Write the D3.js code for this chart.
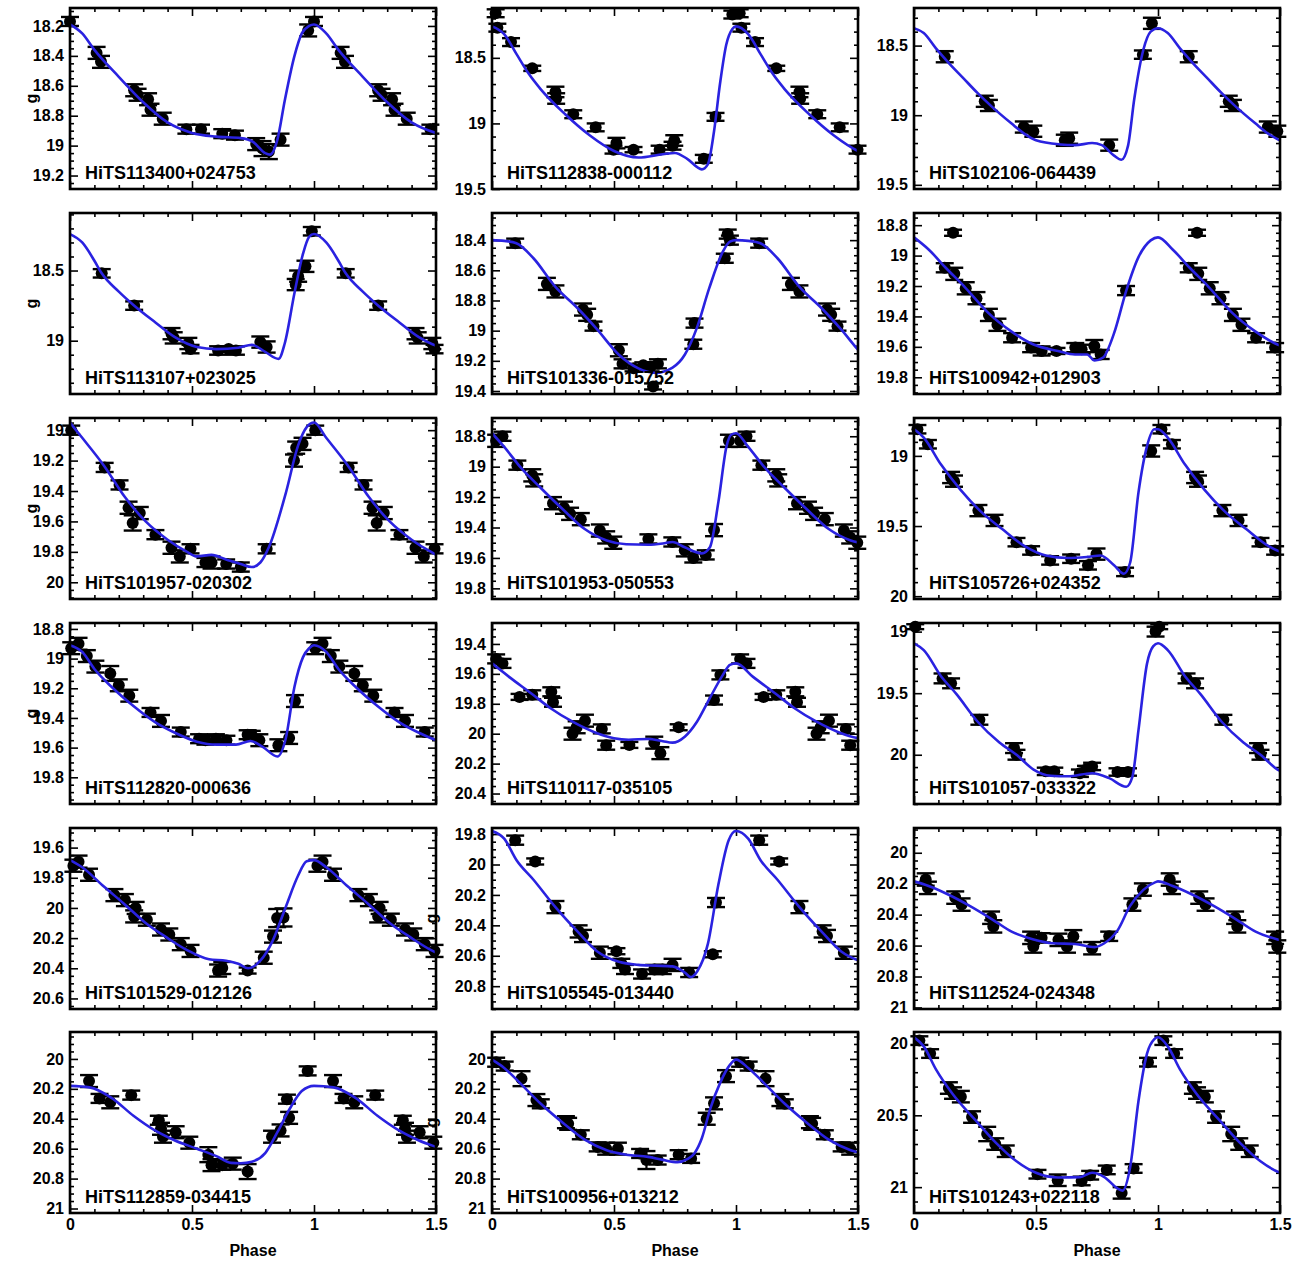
<!DOCTYPE html>
<html>
<head>
<meta charset="UTF-8">
<script src="https://d3js.org/d3.v7.min.js"></script>
<style>
    body { margin: 0; background: #fff; }
    text { font-family: "Liberation Sans", Arial, sans-serif; font-weight: bold; fill: #000; }
</style>
</head>
<body>
<svg id="chart" width="1314" height="1264"></svg>
<script>

// star names, row by row
const names = [
    "HiTS113400+024753", "HiTS112838-000112", "HiTS102106-064439",
    "HiTS113107+023025", "HiTS101336-015752", "HiTS100942+012903",
    "HiTS101957-020302", "HiTS101953-050553", "HiTS105726+024352",
    "HiTS112820-000636", "HiTS110117-035105", "HiTS101057-033322",
    "HiTS101529-012126", "HiTS105545-013440", "HiTS112524-024348",
    "HiTS112859-034415", "HiTS100956+013212", "HiTS101243+022118"
];

// y range of each panel [top, bottom] in mag, and the major tick step
const yRanges = [
    [18.08, 19.29], [18.12, 19.5], [18.23, 19.53],
    [18.09, 19.38], [18.22, 19.42], [18.72, 19.91],
    [18.92, 20.11], [18.68, 19.87], [18.73, 20.02],
    [18.76, 19.98], [19.26, 20.47], [18.93, 20.4],
    [19.47, 20.67], [19.76, 20.95], [19.84, 21.01],
    [19.82, 21.03], [19.82, 21.03], [19.92, 21.18]
];
const ySteps = [0.2, 0.5, 0.5, 0.5, 0.2, 0.2, 0.2, 0.2, 0.5, 0.2, 0.2, 0.5, 0.2, 0.2, 0.2, 0.2, 0.2, 0.5];

const xTicks = [0, 0.5, 1, 1.5];

// observations: [phase, g, error]
const points1 = [[0.0,18.17,0.03],[0.109,18.38,0.04],[0.127,18.44,0.04],[0.263,18.63,0.04],[0.277,18.66,0.04],[0.32,18.69,0.04],[0.33,18.76,0.04],[0.38,18.82,0.04],[0.477,18.89,0.03],[0.537,18.89,0.03],[0.624,18.92,0.03],[0.676,18.93,0.03],[0.763,18.99,0.04],[0.789,19.02,0.05],[0.815,19.04,0.05],[0.863,18.96,0.04],[0.976,18.23,0.04]];
const points2 = [[0.015,18.16,0.03],[0.022,18.27,0.03],[0.078,18.38,0.03],[0.165,18.58,0.02],[0.26,18.76,0.04],[0.263,18.81,0.04],[0.333,18.93,0.03],[0.425,19.03,0.03],[0.498,19.2,0.03],[0.51,19.15,0.04],[0.58,19.2,0.02],[0.687,19.2,0.03],[0.74,19.17,0.03],[0.747,19.13,0.04],[0.868,19.27,0.03],[0.916,18.95,0.03],[0.985,18.17,0.03]];
const points3 = [[0.126,18.58,0.04],[0.29,18.9,0.04],[0.307,18.93,0.04],[0.45,19.085,0.04],[0.489,19.115,0.04],[0.618,19.18,0.04],[0.636,19.165,0.04],[0.8,19.215,0.04],[0.938,18.565,0.03],[0.975,18.34,0.04]];
const points4 = [[0.13,18.52,0.03],[0.263,18.75,0.03],[0.416,18.95,0.04],[0.425,18.98,0.04],[0.485,19.02,0.04],[0.494,19.06,0.03],[0.607,19.07,0.03],[0.65,19.06,0.02],[0.68,19.07,0.03],[0.78,19.01,0.04],[0.806,19.045,0.04],[0.925,18.6,0.04],[0.935,18.54,0.04],[0.965,18.47,0.04],[0.991,18.22,0.03]];
const points5 = [[0.095,18.42,0.03],[0.225,18.69,0.04],[0.26,18.74,0.04],[0.373,18.86,0.04],[0.39,18.895,0.04],[0.416,18.97,0.03],[0.52,19.13,0.04],[0.535,19.22,0.03],[0.58,19.25,0.02],[0.62,19.23,0.02],[0.65,19.24,0.03],[0.66,19.37,0.02],[0.68,19.22,0.03],[0.825,19.09,0.03],[0.83,18.95,0.03],[0.954,18.52,0.03],[0.966,18.36,0.03],[0.975,18.4,0.03]];
const points6 = [[0.126,19.08,0.03],[0.16,18.85,0.02],[0.165,19.12,0.04],[0.212,19.215,0.04],[0.256,19.28,0.04],[0.307,19.39,0.04],[0.342,19.455,0.04],[0.402,19.54,0.03],[0.48,19.605,0.03],[0.523,19.627,0.03],[0.584,19.627,0.02],[0.661,19.605,0.03],[0.687,19.616,0.03],[0.739,19.595,0.04],[0.765,19.65,0.03],[0.869,19.23,0.03]];
const points7 = [[0.005,19.0,0.03],[0.142,19.245,0.03],[0.203,19.36,0.03],[0.24,19.51,0.04],[0.257,19.61,0.05],[0.286,19.545,0.04],[0.35,19.687,0.03],[0.416,19.773,0.04],[0.45,19.83,0.04],[0.494,19.78,0.03],[0.555,19.87,0.03],[0.58,19.87,0.04],[0.64,19.88,0.03],[0.7,19.9,0.03],[0.806,19.78,0.03],[0.918,19.2,0.04],[0.927,19.115,0.04],[0.953,19.09,0.04]];
const points8 = [[0.017,18.83,0.04],[0.043,18.8,0.03],[0.104,18.99,0.03],[0.165,19.057,0.04],[0.173,19.09,0.04],[0.25,19.24,0.04],[0.295,19.27,0.04],[0.32,19.31,0.04],[0.364,19.345,0.04],[0.442,19.42,0.04],[0.468,19.465,0.04],[0.497,19.5,0.04],[0.641,19.475,0.03],[0.739,19.495,0.03],[0.79,19.55,0.04],[0.825,19.6,0.03],[0.876,19.58,0.03],[0.91,19.417,0.04],[0.971,18.83,0.04]];
const points9 = [[0.014,18.81,0.03],[0.057,18.917,0.03],[0.152,19.154,0.04],[0.164,19.18,0.04],[0.264,19.39,0.04],[0.33,19.46,0.04],[0.42,19.615,0.03],[0.48,19.674,0.03],[0.558,19.745,0.03],[0.644,19.733,0.03],[0.713,19.78,0.03],[0.748,19.7,0.04],[0.865,19.827,0.03],[0.972,18.965,0.04]];
const points10 = [[0.005,18.93,0.04],[0.035,18.9,0.04],[0.069,18.983,0.04],[0.104,19.054,0.04],[0.165,19.1,0.05],[0.2,19.18,0.04],[0.243,19.25,0.04],[0.33,19.363,0.03],[0.373,19.42,0.04],[0.454,19.495,0.03],[0.529,19.54,0.03],[0.555,19.55,0.03],[0.598,19.54,0.03],[0.641,19.55,0.03],[0.728,19.513,0.03],[0.745,19.517,0.03],[0.776,19.55,0.04],[0.854,19.584,0.04],[0.898,19.535,0.04],[0.922,19.286,0.04]];
const points11 = [[0.017,19.5,0.03],[0.043,19.53,0.03],[0.113,19.754,0.02],[0.165,19.74,0.03],[0.243,19.72,0.03],[0.25,19.79,0.03],[0.33,20.0,0.04],[0.347,19.957,0.04],[0.381,19.913,0.04],[0.45,19.968,0.03],[0.468,20.077,0.03],[0.563,20.075,0.02],[0.665,20.06,0.04],[0.69,20.13,0.04],[0.765,19.957,0.02],[0.91,19.775,0.03],[0.936,19.607,0.03]];
const points12 = [[0.005,18.96,0.02],[0.117,19.38,0.04],[0.152,19.42,0.04],[0.268,19.716,0.04],[0.41,19.946,0.04],[0.42,20.0,0.04],[0.54,20.135,0.03],[0.575,20.135,0.03],[0.68,20.15,0.03],[0.705,20.12,0.03],[0.73,20.095,0.03],[0.834,20.14,0.03],[0.877,20.14,0.03],[0.99,19.0,0.04]];
const points13 = [[0.014,19.72,0.04],[0.035,19.693,0.04],[0.078,19.78,0.04],[0.182,19.915,0.04],[0.225,19.948,0.04],[0.263,20.056,0.04],[0.269,20.0,0.04],[0.315,20.078,0.04],[0.373,20.143,0.04],[0.407,20.176,0.04],[0.454,20.24,0.04],[0.494,20.285,0.04],[0.607,20.415,0.04],[0.624,20.398,0.04],[0.728,20.415,0.02],[0.794,20.33,0.04],[0.832,20.19,0.04],[0.849,20.067,0.06],[0.875,20.063,0.06]];
const points14 = [[0.095,19.84,0.03],[0.177,19.98,0.02],[0.26,20.28,0.04],[0.355,20.44,0.04],[0.373,20.47,0.04],[0.442,20.58,0.04],[0.51,20.57,0.02],[0.53,20.65,0.03],[0.545,20.69,0.03],[0.615,20.72,0.03],[0.665,20.69,0.03],[0.7,20.69,0.03],[0.74,20.66,0.04],[0.808,20.71,0.03],[0.905,20.59,0.02],[0.918,20.25,0.03]];
const points15 = [[0.048,20.173,0.04],[0.057,20.227,0.04],[0.169,20.29,0.04],[0.195,20.335,0.04],[0.316,20.42,0.04],[0.325,20.476,0.04],[0.48,20.55,0.04],[0.489,20.606,0.04],[0.523,20.55,0.03],[0.592,20.563,0.04],[0.627,20.606,0.04],[0.653,20.54,0.04],[0.73,20.617,0.04],[0.8,20.54,0.03],[0.895,20.335,0.04],[0.938,20.238,0.04]];
const points16 = [[0.078,20.148,0.04],[0.121,20.264,0.03],[0.165,20.29,0.04],[0.251,20.242,0.03],[0.364,20.41,0.03],[0.373,20.467,0.04],[0.381,20.52,0.04],[0.433,20.49,0.04],[0.489,20.56,0.04],[0.567,20.64,0.05],[0.58,20.71,0.04],[0.624,20.71,0.03],[0.667,20.7,0.04],[0.728,20.753,0.05],[0.828,20.52,0.04],[0.863,20.478,0.04],[0.889,20.269,0.03],[0.898,20.394,0.04],[0.974,20.08,0.03]];
const points17 = [[0.017,20.022,0.03],[0.052,20.048,0.03],[0.121,20.132,0.05],[0.182,20.275,0.04],[0.2,20.3,0.03],[0.303,20.423,0.04],[0.312,20.434,0.04],[0.364,20.507,0.03],[0.433,20.588,0.03],[0.468,20.6,0.04],[0.516,20.6,0.04],[0.607,20.632,0.03],[0.633,20.676,0.06],[0.679,20.676,0.03],[0.765,20.64,0.03],[0.816,20.665,0.03],[0.88,20.4,0.04],[0.91,20.297,0.04],[0.959,20.115,0.04]];
const points18 = [[0.022,19.98,0.03],[0.066,20.07,0.03],[0.143,20.31,0.04],[0.16,20.345,0.04],[0.192,20.37,0.04],[0.238,20.512,0.04],[0.3,20.63,0.05],[0.333,20.7,0.04],[0.376,20.75,0.04],[0.506,20.91,0.03],[0.589,20.952,0.04],[0.687,20.957,0.03],[0.722,20.917,0.03],[0.79,20.88,0.03],[0.851,21.04,0.04],[0.9,20.87,0.03],[0.959,20.13,0.03]];

// fitted template over one period: [phase, g]
const fit1 = [[0,18.19],[0.05,18.25],[0.1,18.36],[0.2,18.54],[0.3,18.71],[0.4,18.845],[0.5,18.915],[0.6,18.94],[0.7,18.95],[0.75,18.975],[0.8,19.05],[0.82,19.06],[0.85,18.96],[0.88,18.7],[0.92,18.4],[0.95,18.25],[0.98,18.2],[1,18.19]];
const fit2 = [[0,18.26],[0.05,18.32],[0.1,18.47],[0.15,18.62],[0.2,18.74],[0.3,18.93],[0.4,19.09],[0.5,19.21],[0.6,19.26],[0.7,19.235],[0.75,19.225],[0.8,19.27],[0.86,19.35],[0.885,19.31],[0.91,19.06],[0.935,18.69],[0.96,18.4],[0.985,18.28],[1,18.26]];
const fit3 = [[0,18.375],[0.04,18.41],[0.09,18.52],[0.14,18.62],[0.2,18.73],[0.26,18.84],[0.32,18.94],[0.4,19.06],[0.45,19.13],[0.5,19.18],[0.6,19.21],[0.66,19.215],[0.73,19.2],[0.77,19.215],[0.82,19.29],[0.85,19.32],[0.877,19.22],[0.903,18.88],[0.94,18.53],[0.97,18.4],[1,18.375]];
const fit4 = [[0,18.24],[0.05,18.3],[0.1,18.43],[0.13,18.52],[0.2,18.65],[0.26,18.745],[0.35,18.87],[0.43,18.975],[0.52,19.045],[0.6,19.06],[0.69,19.05],[0.745,19.03],[0.8,19.08],[0.855,19.13],[0.88,19.02],[0.92,18.66],[0.955,18.38],[0.98,18.26],[1,18.24]];
const fit5 = [[0,18.4],[0.05,18.405],[0.1,18.42],[0.17,18.52],[0.26,18.71],[0.35,18.85],[0.43,18.99],[0.52,19.16],[0.6,19.25],[0.67,19.28],[0.74,19.245],[0.79,19.16],[0.84,18.98],[0.89,18.72],[0.945,18.48],[0.975,18.41],[1,18.4]];
const fit6 = [[0,18.88],[0.06,18.96],[0.13,19.08],[0.21,19.21],[0.3,19.37],[0.4,19.5],[0.49,19.585],[0.59,19.627],[0.66,19.65],[0.71,19.65],[0.74,19.69],[0.775,19.67],[0.82,19.51],[0.87,19.23],[0.92,19.01],[0.97,18.9],[1,18.88]];
const fit7 = [[0,18.95],[0.05,19.05],[0.14,19.235],[0.225,19.44],[0.31,19.6],[0.4,19.72],[0.48,19.8],[0.52,19.83],[0.58,19.82],[0.64,19.85],[0.7,19.88],[0.745,19.9],[0.78,19.87],[0.815,19.77],[0.885,19.41],[0.935,19.1],[0.97,18.98],[1,18.955]];
const fit8 = [[0,18.78],[0.05,18.87],[0.12,19.01],[0.2,19.14],[0.29,19.28],[0.38,19.41],[0.47,19.485],[0.55,19.51],[0.64,19.513],[0.7,19.505],[0.74,19.495],[0.79,19.53],[0.86,19.57],[0.893,19.53],[0.928,19.23],[0.962,18.86],[0.98,18.79],[1,18.78]];
const fit9 = [[0,18.81],[0.04,18.87],[0.11,19.06],[0.19,19.24],[0.27,19.39],[0.36,19.52],[0.45,19.64],[0.54,19.71],[0.63,19.728],[0.71,19.72],[0.765,19.71],[0.82,19.78],[0.86,19.84],[0.886,19.76],[0.92,19.26],[0.955,18.93],[0.985,18.81],[1,18.806]];
const fit10 = [[0,18.91],[0.05,18.955],[0.1,19.07],[0.17,19.19],[0.26,19.32],[0.35,19.43],[0.43,19.5],[0.52,19.56],[0.6,19.58],[0.68,19.58],[0.74,19.555],[0.79,19.595],[0.85,19.66],[0.884,19.54],[0.92,19.19],[0.955,18.99],[0.98,18.93],[1,18.91]];
const fit11 = [[0,19.53],[0.07,19.62],[0.16,19.73],[0.24,19.83],[0.33,19.92],[0.42,19.99],[0.5,20.03],[0.56,20.04],[0.64,20.035],[0.7,20.05],[0.74,20.06],[0.79,20.02],[0.84,19.92],[0.89,19.77],[0.945,19.61],[0.975,19.54],[1,19.53]];
const fit12 = [[0,19.095],[0.04,19.15],[0.11,19.36],[0.175,19.51],[0.26,19.73],[0.35,19.9],[0.42,20.0],[0.49,20.12],[0.56,20.17],[0.63,20.175],[0.73,20.15],[0.8,20.19],[0.87,20.26],[0.895,20.18],[0.92,19.8],[0.955,19.26],[0.98,19.12],[1,19.095]];
const fit13 = [[0,19.683],[0.05,19.73],[0.14,19.86],[0.22,19.97],[0.31,20.1],[0.4,20.2],[0.48,20.28],[0.57,20.34],[0.64,20.35],[0.69,20.37],[0.73,20.4],[0.78,20.35],[0.83,20.22],[0.885,19.99],[0.935,19.785],[0.97,19.69],[1,19.68]];
const fit14 = [[0,19.78],[0.05,19.83],[0.1,19.97],[0.17,20.1],[0.26,20.28],[0.35,20.44],[0.43,20.57],[0.52,20.64],[0.6,20.66],[0.67,20.665],[0.74,20.67],[0.79,20.71],[0.815,20.74],[0.842,20.7],[0.885,20.52],[0.928,20.13],[0.97,19.84],[1,19.79]];
const fit15 = [[0,20.185],[0.06,20.215],[0.14,20.27],[0.23,20.345],[0.32,20.43],[0.4,20.51],[0.49,20.56],[0.57,20.585],[0.66,20.59],[0.74,20.61],[0.78,20.585],[0.835,20.5],[0.885,20.345],[0.94,20.24],[0.99,20.19],[1,20.185]];
const fit16 = [[0,20.18],[0.08,20.19],[0.17,20.26],[0.26,20.38],[0.35,20.48],[0.43,20.545],[0.52,20.6],[0.6,20.65],[0.66,20.695],[0.7,20.697],[0.745,20.687],[0.8,20.63],[0.85,20.49],[0.9,20.335],[0.95,20.215],[1,20.18]];
const fit17 = [[0,20.005],[0.05,20.06],[0.12,20.17],[0.2,20.3],[0.3,20.44],[0.38,20.54],[0.47,20.61],[0.55,20.64],[0.64,20.655],[0.7,20.675],[0.76,20.69],[0.8,20.67],[0.83,20.63],[0.86,20.53],[0.895,20.33],[0.935,20.16],[0.975,20.04],[1,20.005]];
const fit18 = [[0,19.957],[0.04,20.02],[0.09,20.18],[0.16,20.355],[0.25,20.53],[0.335,20.69],[0.42,20.82],[0.5,20.9],[0.59,20.933],[0.68,20.93],[0.73,20.9],[0.78,20.93],[0.835,21.01],[0.855,21.024],[0.886,20.86],[0.92,20.4],[0.955,20.07],[0.985,19.97],[1,19.957]];

const allPoints = [points1, points2, points3, points4, points5, points6, points7, points8, points9,
    points10, points11, points12, points13, points14, points15, points16, points17, points18];
const allFits = [fit1, fit2, fit3, fit4, fit5, fit6, fit7, fit8, fit9,
    fit10, fit11, fit12, fit13, fit14, fit15, fit16, fit17, fit18];

// layout
const colX = [70, 492, 914], rowY = [8, 213, 418, 623, 828, 1032];
const pw = 366, ph = 181;
const lastRow = 5;

const svg = d3.select("#chart");
const fmt = d => String(+d.toFixed(2));

names.forEach((name, i) => {
    const col = i % 3, row = Math.floor(i / 3);
    const g = svg.append("g").attr("transform", `translate(${colX[col]},${rowY[row]})`);

    const x = d3.scaleLinear().domain([0, 1.5]).range([0, pw]);
    const y = d3.scaleLinear().domain(yRanges[i]).range([0, ph]);

    // tick values
    const [y0, y1] = yRanges[i], step = ySteps[i];
    const minorStep = step === 0.5 ? 0.1 : 0.05;
    const majors = d3.range(Math.ceil(y0 / step - 1e-6), Math.floor(y1 / step + 1e-6) + 1).map(k => +(k * step).toFixed(3));
    const minors = d3.range(Math.ceil(y0 / minorStep - 1e-6), Math.floor(y1 / minorStep + 1e-6) + 1)
        .map(k => +(k * minorStep).toFixed(3))
        .filter(v => !majors.some(m => Math.abs(m - v) < 1e-6));
    const xMinors = d3.range(0, 16).map(k => +(k * 0.1).toFixed(2)).filter(v => !xTicks.includes(v));

    // y axes: left with labels, right without
    g.append("g").call(d3.axisLeft(y).tickValues(majors).tickSize(-8).tickPadding(6).tickFormat(fmt))
        .call(a => a.select(".domain").remove())
        .call(a => a.selectAll("text").attr("font-size", 16).attr("font-weight", "bold")
            .attr("font-family", "Liberation Sans, Arial, sans-serif"));
    g.append("g").call(d3.axisLeft(y).tickValues(minors).tickSize(-4).tickFormat(""))
        .call(a => a.select(".domain").remove());
    g.append("g").attr("transform", `translate(${pw},0)`)
        .call(d3.axisRight(y).tickValues(majors).tickSize(-8).tickFormat(""))
        .call(a => a.select(".domain").remove());
    g.append("g").attr("transform", `translate(${pw},0)`)
        .call(d3.axisRight(y).tickValues(minors).tickSize(-4).tickFormat(""))
        .call(a => a.select(".domain").remove());

    // x axes
    const bottom = d3.axisBottom(x).tickValues(xTicks).tickSize(-8).tickPadding(6)
        .tickFormat(row === lastRow ? fmt : "");
    g.append("g").attr("transform", `translate(0,${ph})`).call(bottom)
        .call(a => a.select(".domain").remove())
        .call(a => a.selectAll("text").attr("font-size", 16).attr("font-weight", "bold")
            .attr("font-family", "Liberation Sans, Arial, sans-serif"));
    g.append("g").attr("transform", `translate(0,${ph})`)
        .call(d3.axisBottom(x).tickValues(xMinors).tickSize(-4).tickFormat(""))
        .call(a => a.select(".domain").remove());
    g.append("g").call(d3.axisTop(x).tickValues(xTicks).tickSize(-8).tickFormat(""))
        .call(a => a.select(".domain").remove());
    g.append("g").call(d3.axisTop(x).tickValues(xMinors).tickSize(-4).tickFormat(""))
        .call(a => a.select(".domain").remove());

    g.selectAll(".tick line").attr("stroke", "#000").attr("stroke-width", 1.6);

    // observations, repeated one period later
    const pts = allPoints[i].concat(allPoints[i].filter(d => d[0] + 1 <= 1.5).map(d => [d[0] + 1, d[1], d[2]]));
    const obs = g.append("g").attr("class", "points");
    obs.selectAll("line.err").data(pts).enter().append("line")
        .attr("x1", d => x(d[0])).attr("x2", d => x(d[0]))
        .attr("y1", d => y(d[1] - d[2])).attr("y2", d => y(d[1] + d[2]))
        .attr("stroke", "#000").attr("stroke-width", 2.2);
    obs.selectAll("line.cap1").data(pts).enter().append("line")
        .attr("x1", d => x(d[0]) - 9).attr("x2", d => x(d[0]) + 9)
        .attr("y1", d => y(d[1] - d[2])).attr("y2", d => y(d[1] - d[2]))
        .attr("stroke", "#000").attr("stroke-width", 2.4);
    obs.selectAll("line.cap2").data(pts).enter().append("line")
        .attr("x1", d => x(d[0]) - 9).attr("x2", d => x(d[0]) + 9)
        .attr("y1", d => y(d[1] + d[2])).attr("y2", d => y(d[1] + d[2]))
        .attr("stroke", "#000").attr("stroke-width", 2.4);
    obs.selectAll("circle").data(pts).enter().append("circle")
        .attr("cx", d => x(d[0])).attr("cy", d => y(d[1])).attr("r", 6)
        .attr("fill", "#000");

    // fitted curve, periodic
    const base = allFits[i].filter(d => d[0] < 1);
    const curveData = base.concat(base.filter(d => d[0] <= 0.6).map(d => [d[0] + 1, d[1]]));
    g.append("clipPath").attr("id", "clip" + i)
        .append("rect").attr("width", pw).attr("height", ph);
    g.append("path")
        .datum(curveData)
        .attr("clip-path", `url(#clip${i})`)
        .attr("fill", "none")
        .attr("stroke", "#2a22e0")
        .attr("stroke-width", 2.6)
        .attr("d", d3.line().x(d => x(d[0])).y(d => y(d[1])).curve(d3.curveMonotoneX));

    // frame
    g.append("rect").attr("width", pw).attr("height", ph)
        .attr("fill", "none").attr("stroke", "#000").attr("stroke-width", 2.6);

    // star name
    g.append("text").attr("x", 15).attr("y", ph - 10)
        .attr("font-size", 18).text(name);

    // y title
    if ((col === 0 && row < 4) || (col === 1 && row >= 4)) {
        const tx = col === 0 ? -33 : -55;
        g.append("text")
            .attr("transform", `translate(${tx},${ph / 2}) rotate(-90)`)
            .attr("text-anchor", "middle").attr("font-size", 16).text("g");
    }

    if (row === lastRow) {
        g.append("text").attr("x", pw / 2).attr("y", ph + 43)
            .attr("text-anchor", "middle").attr("font-size", 16).text("Phase");
    }
});
</script>
</body>
</html>
